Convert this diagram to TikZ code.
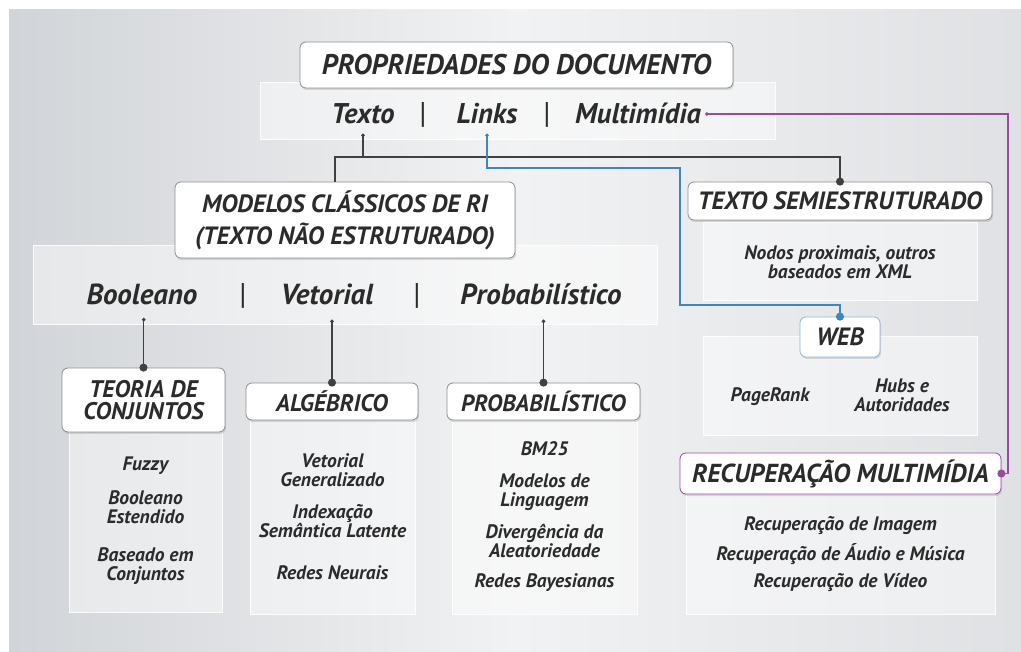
\documentclass[tikz,border=0pt]{standalone}
\usepackage{fontspec}
\setmainfont{PT Sans}
\usetikzlibrary{positioning,shadows,arrows.meta}

\definecolor{ink}{HTML}{2B2B2B}
\definecolor{bgdark}{HTML}{D1D4D8}
\definecolor{bglight}{HTML}{F1F2F3}
\definecolor{linkblue}{HTML}{3C86C2}
\definecolor{mmpurple}{HTML}{9A4A9D}
\definecolor{boxline}{HTML}{8E8E8E}

\tikzset{
  head/.style={draw=boxline, line width=0.8pt, fill=white, rounded corners=6pt, text=ink,
    font=\bfseries\itshape\fontsize{24}{26}\selectfont, align=center, inner sep=0pt,
    drop shadow={opacity=0.25, shadow xshift=1pt, shadow yshift=-2pt}},
  panel/.style={draw=white, fill=white, fill opacity=0.45, draw opacity=0.9, text opacity=1,
    line width=1pt, text=ink, align=center, inner sep=0pt,
    font=\bfseries\itshape\fontsize{19.5}{19}\selectfont},
  prop/.style={text=ink, font=\bfseries\itshape\fontsize{28.5}{30}\selectfont, anchor=base,
    inner xsep=4pt, inner ysep=9pt},
  pipe/.style={prop, font=\fontsize{30}{30}\selectfont},
  conn/.style={draw=ink!90, line width=1.2pt},
  blueconn/.style={draw=linkblue, line width=1.2pt},
  purpconn/.style={draw=mmpurple, line width=1.2pt},
  startdot/.style={{Circle[length=3.5pt, fill=gray]}-},
  enddot/.style={-{Circle[length=8pt]}, shorten >=-4pt},
}

\begin{document}
\begin{tikzpicture}[x=1pt, y=-1pt]
\useasboundingbox (0,0) rectangle (1021,652);
\shade[left color=bgdark, right color=bgdark!70!white, middle color=bglight] (9,10) rectangle (1021,652);

% panels
\node[panel, minimum width=515pt, minimum height=57pt] (propbar) at (517.5,111.5) {};
\node[panel, minimum width=624pt, minimum height=79pt] (boolbar) at (345,285.5) {};
\node[panel, minimum width=274pt, minimum height=78pt] (semibody) at (840,262)
  {Nodos proximais, outros\\baseados em XML};
\node[panel, minimum width=274pt, minimum height=99pt] (webbody) at (840,386.5) {};
\node[panel, minimum width=309pt, minimum height=120pt] (recupbody) at (840.5,554)
  {Recuperação de Imagem\\[8pt]Recuperação de Áudio e Música\\[8pt]Recuperação de Vídeo};
\node[panel, minimum width=153pt, minimum height=182pt] (teoriabody) at (145.5,521)
  {Fuzzy\\[15pt]Booleano\\Estendido\\[19pt]Baseado em\\Conjuntos};
\node[panel, minimum width=165pt, minimum height=194pt] (algbody) at (332.5,517)
  {Vetorial\\Generalizado\\[13pt]Indexação\\Semântica Latente\\[23pt]Redes Neurais};
\node[panel, minimum width=185pt, minimum height=194pt] (probbody) at (544.5,517)
  {BM25\\[13pt]Modelos de\\Linguagem\\[13pt]Divergência da\\Aleatoriedade\\[11pt]Redes Bayesianas};

\node[panel, draw=none, fill=none] (pagerank) at (770,397) {PageRank};
\node[panel, draw=none, fill=none] (hubs) at (902,395) {Hubs e\\Autoridades};

% headers
\node[head, minimum width=433pt, minimum height=46pt, font=\bfseries\itshape\fontsize{28.4}{30}\selectfont]
  (title) at (516.5,65) {PROPRIEDADES DO DOCUMENTO};
\node[head, minimum width=340pt, minimum height=76pt, font=\bfseries\itshape\fontsize{25}{32}\selectfont]
  (modelos) at (345,220) {MODELOS CLÁSSICOS DE RI\\(TEXTO NÃO ESTRUTURADO)};
\node[head, minimum width=304pt, minimum height=38pt, font=\bfseries\itshape\fontsize{25}{27}\selectfont]
  (semi) at (840,201) {TEXTO SEMIESTRUTURADO};
\node[head, draw=linkblue!60, minimum width=80pt, minimum height=40pt, font=\bfseries\itshape\fontsize{25}{27}\selectfont]
  (web) at (840,337) {WEB};
\node[head, draw=mmpurple, minimum width=321pt, minimum height=41pt, font=\bfseries\itshape\fontsize{26}{28}\selectfont]
  (recup) at (840.5,473.5) {RECUPERAÇÃO MULTIMÍDIA};
\node[head, minimum width=163pt, minimum height=64pt, font=\bfseries\itshape\fontsize{24}{22}\selectfont]
  (teoria) at (143.5,400) {TEORIA DE\\CONJUNTOS};
\node[head, minimum width=172pt, minimum height=37pt] (alg) at (332,401.5) {ALGÉBRICO};
\node[head, minimum width=193pt, minimum height=37pt, font=\bfseries\itshape\fontsize{23.5}{25}\selectfont]
  (prob) at (543.5,401.5) {PROBABILÍSTICO};

% properties row
\node[prop] (texto) at (363,124) {Texto};
\node[pipe] (pipeA) at (423,124) {|};
\node[prop] (links) at (487,124) {Links};
\node[pipe] (pipeB) at (547,124) {|};
\node[prop] (multi) at (638,124) {Multimídia};

% models row
\node[prop, inner ysep=14pt, font=\bfseries\itshape\fontsize{29}{30}\selectfont] (bool) at (142,305) {Booleano};
\node[pipe] (pipeC) at (243,305) {|};
\node[prop, inner ysep=14pt, font=\bfseries\itshape\fontsize{29}{30}\selectfont] (vet) at (327,305) {Vetorial};
\node[pipe] (pipeD) at (417,305) {|};
\node[prop, inner ysep=14pt, font=\bfseries\itshape\fontsize{29}{30}\selectfont] (probt) at (541,305) {Probabilístico};

% connectors
\coordinate (jt) at (363,157);
\coordinate (lk) at (680,168);
\coordinate (wb) at (840,305);
\coordinate (mm) at (1008,118);
\draw[conn, startdot] (texto.south) -- (jt) -| ([xshift=-10pt]modelos.north);
\draw[conn, enddot] (jt) -| (semi.north);
\draw[blueconn, startdot] (links.south) |- (lk) |- (wb) -- (web.north);
\draw[blueconn, enddot] (wb) -- (web.north);
\draw[purpconn, startdot] (multi.east) -- (multi.east -| mm) |- (recup.east);
\draw[purpconn, enddot] (recup.east -| mm) -- (recup.east);
\draw[conn, startdot] (bool.south) -- (bool.south -| teoria.north);
\draw[conn, enddot] (bool.south -| teoria.north) -- (teoria.north);
\draw[conn, startdot] (alg.north |- vet.south) -- (alg.north);
\draw[conn, enddot] (alg.north |- vet.south) -- (alg.north);
\draw[conn, startdot] (prob.north |- probt.south) -- (prob.north);
\draw[conn, enddot] (prob.north |- probt.south) -- (prob.north);
\end{tikzpicture}
\end{document}
